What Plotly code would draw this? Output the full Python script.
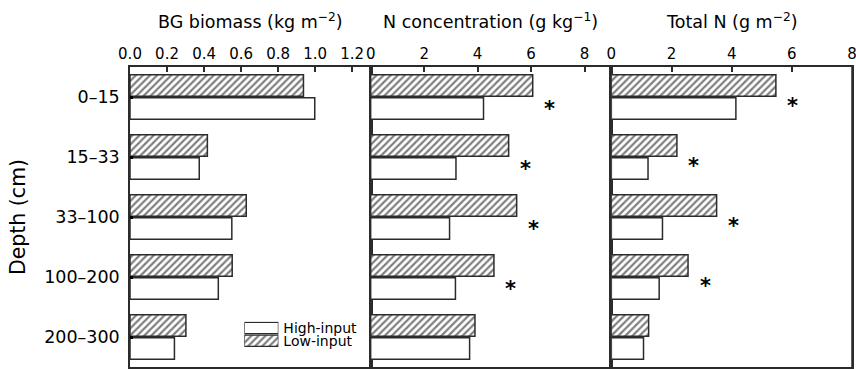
import plotly.graph_objects as go

depths = ["0–15", "15–33", "33–100", "100–200", "200–300"]

bg_high = [0.998, 0.374, 0.550, 0.477, 0.240]
bg_low = [0.937, 0.418, 0.628, 0.552, 0.302]

nconc_high = [4.22, 3.19, 2.95, 3.17, 3.70]
nconc_low = [6.06, 5.16, 5.46, 4.61, 3.90]
nconc_sig = [True, True, True, True, False]

totn_high = [4.14, 1.22, 1.70, 1.59, 1.07]
totn_low = [5.47, 2.18, 3.50, 2.55, 1.24]
totn_sig = [True, True, True, True, False]

titles = ["BG biomass (kg m<sup>−2</sup>)",
          "N concentration (g kg<sup>−1</sup>)",
          "Total N (g m<sup>−2</sup>)"]
legend_labels = ["High-input", "Low-input"]

FONT = "DejaVu Sans"
LINE = "#2b2b2b"
HATCH = dict(shape="/", fgcolor="#000000", bgcolor="white", size=5, solidity=0.45)

fig = go.Figure()

panels = [(bg_low, bg_high), (nconc_low, nconc_high), (totn_low, totn_high)]
for i, (low, high) in enumerate(panels):
    ax = "" if i == 0 else str(i + 1)
    fig.add_trace(go.Bar(
        y=depths, x=low, orientation="h", name="Low-input",
        marker=dict(color="white", line=dict(color=LINE, width=1.5), pattern=HATCH),
        xaxis="x" + ax, yaxis="y" + ax, showlegend=False))
    fig.add_trace(go.Bar(
        y=depths, x=high, orientation="h", name="High-input",
        marker=dict(color="white", line=dict(color=LINE, width=1.5)),
        xaxis="x" + ax, yaxis="y" + ax, showlegend=False))

# legend swatches drawn as a tiny bar subplot
fig.add_trace(go.Bar(
    y=legend_labels, x=[1, 1], orientation="h", width=0.88,
    marker=dict(color="white", line=dict(color=LINE, width=1.2),
                pattern=dict(shape=["", "/"], fgcolor="#000000", bgcolor="white", size=5, solidity=0.45)),
    xaxis="x4", yaxis="y4", showlegend=False, hoverinfo="skip"))

domains = [[0, 1/3], [1/3, 2/3], [2/3, 1]]
ranges = [[0, 1.3], [0, 9], [0, 8]]
dticks = [0.2, 2, 2]
fmts = [".1f", "d", "d"]

layout = dict(
    width=856, height=369, autosize=False,
    margin=dict(l=130, r=4, t=67, b=2, autoexpand=False),
    paper_bgcolor="white", plot_bgcolor="white",
    barmode="group", bargap=0.233, bargroupgap=0.06,
    showlegend=False,
    font=dict(family=FONT, color="black"),
)
for i in range(3):
    ax = "" if i == 0 else str(i + 1)
    layout["xaxis" + ax] = dict(
        domain=domains[i], range=ranges[i], side="top", anchor="y" + ax,
        dtick=dticks[i], tick0=0, tickformat=fmts[i],
        ticks="inside", ticklen=5, tickwidth=1.5, tickcolor=LINE,
        showline=True, linecolor=LINE, linewidth=1.5, mirror=True,
        showgrid=False, zeroline=False,
        tickfont=dict(size=15, family=FONT, color="black"),
        ticklabelstandoff=0, ticklabeloverflow="allow",
    )
    ydict = dict(
        anchor="x" + ax, domain=[0, 1], autorange="reversed", type="category",
        showline=True, linecolor=LINE, linewidth=1.5, mirror=True,
        showgrid=False, zeroline=False,
    )
    if i == 0:
        ydict.update(ticks="inside", ticklen=3, tickwidth=2.5, tickcolor="black",
                     tickfont=dict(size=17.5, family=FONT, color="black"),
                     ticklabelstandoff=5,
                     title=dict(text="Depth (cm)", font=dict(size=20.5, family=FONT), standoff=13))
    else:
        ydict.update(showticklabels=False, ticks="")
    layout["yaxis" + ax] = ydict

layout["xaxis4"] = dict(domain=[0.1584, 0.2055], range=[0, 1], anchor="y4", visible=False)
layout["yaxis4"] = dict(domain=[0.066, 0.1513], anchor="x4", side="right", type="category",
                        autorange="reversed", showline=False, showgrid=False, zeroline=False,
                        tickmode="array", tickvals=legend_labels, ticktext=legend_labels,
                        ticks="", tickfont=dict(size=14, family=FONT, color="black"),
                        ticklabelstandoff=4)
fig.update_layout(**layout)

# right-hand frame of the last panel
fig.update_layout(shapes=[dict(type="line", xref="x3 domain", yref="y3 domain",
                               x0=1, x1=1, y0=0, y1=1, line=dict(color=LINE, width=1.5))])

annotations = []
for i in range(3):
    ax = "" if i == 0 else str(i + 1)
    annotations.append(dict(text=titles[i], xref=("x" + ax) + " domain", yref=("y" + ax) + " domain",
                            x=0.5, y=1, yshift=46, showarrow=False, yanchor="middle",
                            font=dict(size=17.5, family=FONT, color="black")))

for (low, sig, ax, yshift) in [(nconc_low, nconc_sig, "2", -12), (totn_low, totn_sig, "3", -9)]:
    for d, v, s in zip(depths, low, sig):
        if s:
            annotations.append(dict(text="<b>*</b>", x=v, y=d, xref="x" + ax, yref="y" + ax,
                                    xshift=17, yshift=yshift, showarrow=False,
                                    font=dict(size=21, family=FONT, color="black")))
fig.update_layout(annotations=annotations)

fig.write_html(
    "out.html",
    config={"displayModeBar": False, "responsive": False},
    default_width="856px", default_height="369px",
    post_script="document.body.style.margin='0';document.body.style.padding='0';"
                "document.body.style.overflow='hidden';document.documentElement.style.overflow='hidden';",
)
